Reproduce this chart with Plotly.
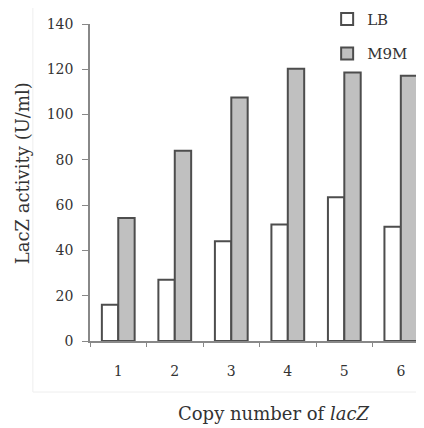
import plotly.graph_objects as go

categories = ["1", "2", "3", "4", "5", "6"]
lb_values = [16, 27, 44, 51.5, 63.5, 50.5]
m9m_values = [54.3, 84, 107.5, 120.2, 118.6, 117.1]
y_ticks = [0, 20, 40, 60, 80, 100, 120, 140]

FONT = "DejaVu Serif"
fig = go.Figure()
fig.add_trace(go.Bar(x=categories, y=lb_values, name="LB", legendgroup="a",
                     marker=dict(color="white", line=dict(color="#4d4d4d", width=2))))
fig.add_trace(go.Bar(x=categories, y=m9m_values, name="M9M", legendgroup="b",
                     marker=dict(color="#c0c0c0", line=dict(color="#4d4d4d", width=2))))

fig.update_layout(
    width=416, height=420,
    margin=dict(l=82, r=0, t=16, b=87, autoexpand=False),
    paper_bgcolor="white", plot_bgcolor="white",
    barmode="group", bargap=0.42, bargroupgap=0,
    font=dict(family=FONT, size=14, color="#333333"),
    showlegend=True,
    legend=dict(x=0.71, y=1.067, xanchor="left", yanchor="top",
                traceorder="grouped", tracegroupgap=12,
                font=dict(family=FONT, size=15, color="#333333"),
                bgcolor="rgba(0,0,0,0)", itemwidth=30),
    xaxis=dict(type="category", range=[-0.5, 5.41], showline=True, linecolor="#888888",
               linewidth=1.5, ticks="outside", tickson="boundaries", ticklen=4,
               tickcolor="#888888", showgrid=False, automargin=False,
               ticklabelstandoff=16),
    yaxis=dict(range=[0, 140], tickvals=y_ticks, showline=True, linecolor="#888888",
               linewidth=1.5, ticks="outside", ticklen=6, tickcolor="#888888",
               showgrid=False, zeroline=False, automargin=False,
               ticklabelstandoff=6),
    annotations=[
        dict(text="Copy number of <i>lacZ</i>", xref="paper", yref="paper",
             x=0.55, y=-0.23, xanchor="center", yanchor="middle", showarrow=False,
             font=dict(family=FONT, size=18, color="#333333")),
        dict(text="LacZ activity (U/ml)", xref="paper", yref="paper",
             x=-0.2, y=0.53, xanchor="center", yanchor="middle", showarrow=False,
             textangle=-90, font=dict(family=FONT, size=18, color="#333333")),
    ],
)
fig.add_shape(type="rect", xref="paper", yref="paper", x0=-0.171, x1=1.1, y0=-0.161, y1=1.2,
              line=dict(color="#eeeeee", width=1), layer="below")
fig.write_html("out.html")
